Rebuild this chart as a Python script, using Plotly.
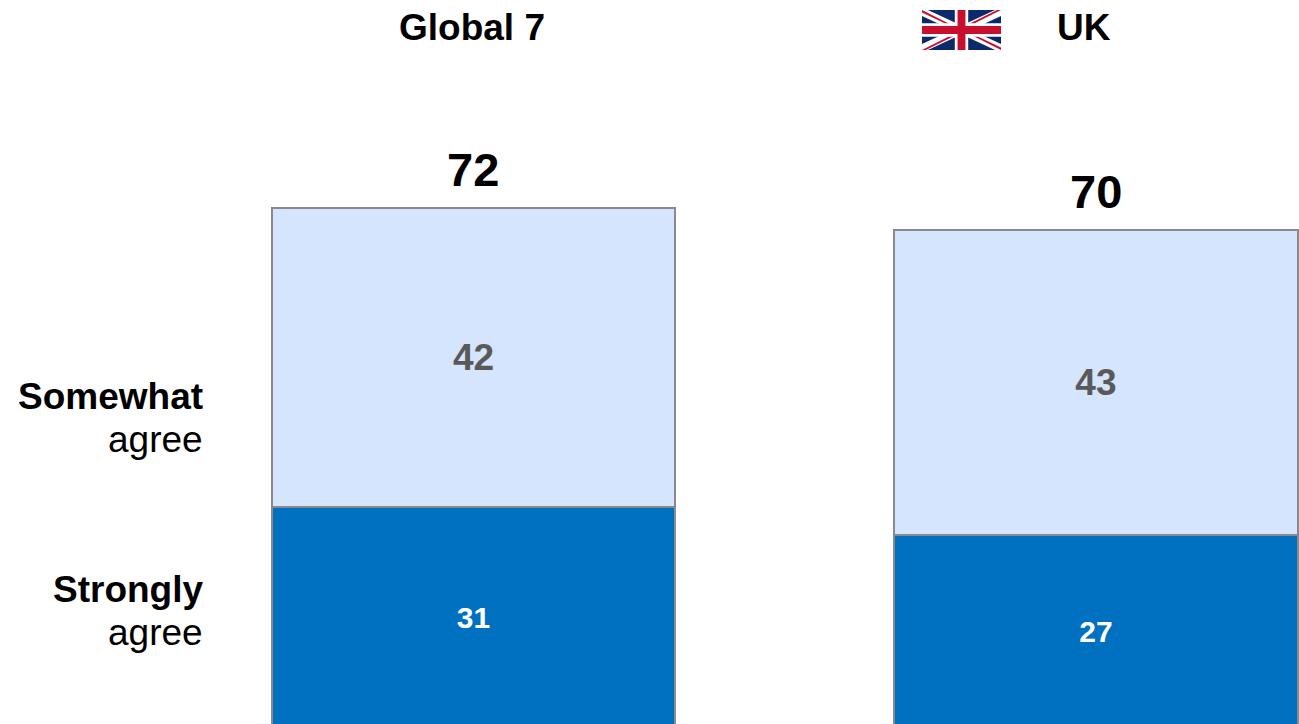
import plotly.graph_objects as go

W, H = 1299, 724

groups = [0, 1]
group_names = ["Global 7", "UK"]
strongly_agree = [31, 27]
somewhat_agree = [42, 43]
net_agree = [72, 70]

FONT = "Liberation Sans, Arial, sans-serif"
DARK_BLUE = "#0070C0"
LIGHT_BLUE = "#D5E5FD"
EDGE = "#8A8A8A"

fig = go.Figure()
bar_style = dict(
    x=groups,
    width=0.648,
    textposition="inside",
    insidetextanchor="middle",
    textangle=0,
    constraintext="none",
    cliponaxis=True,
    hoverinfo="skip",
)
fig.add_bar(
    y=strongly_agree,
    text=strongly_agree,
    marker=dict(color=DARK_BLUE, line=dict(color=EDGE, width=2)),
    textfont=dict(family=FONT, size=30, color="white", weight="bold"),
    name="Strongly agree",
    **bar_style,
)
fig.add_bar(
    y=somewhat_agree,
    text=somewhat_agree,
    marker=dict(color=LIGHT_BLUE, line=dict(color=EDGE, width=2)),
    textfont=dict(family=FONT, size=37, color="#595959", weight="bold"),
    name="Somewhat agree",
    **bar_style,
)


def px_x(v):
    return v / W


def px_y(v):
    return 1 - v / H


annotations = []


def label(text, x, y, size, anchor="center", bold=False):
    annotations.append(
        dict(
            text=f"<b>{text}</b>" if bold else text,
            x=px_x(x),
            y=px_y(y),
            xref="paper",
            yref="paper",
            xanchor=anchor,
            yanchor="middle",
            showarrow=False,
            font=dict(family=FONT, size=size, color="black"),
        )
    )


# Column headings
label(group_names[0], 471.5, 27, 37, bold=True)
label(group_names[1], 1083.5, 27, 37, bold=True)

# Row captions to the left of the first column
label("Somewhat", 205, 396, 37, anchor="right", bold=True)
label("agree", 205, 439, 37, anchor="right")
label("Strongly", 205, 589, 37, anchor="right", bold=True)
label("agree", 205, 632, 37, anchor="right")

# Net totals above each stack
for g, strong, some, net in zip(groups, strongly_agree, somewhat_agree, net_agree):
    annotations.append(
        dict(
            text=f"<b>{net}</b>",
            x=g,
            y=strong + some,
            xref="x",
            yref="y",
            yanchor="bottom",
            yshift=10,
            showarrow=False,
            font=dict(family=FONT, size=47, color="black"),
        )
    )

# Union flag beside the UK heading, built from layered polygons
FX0, FX1, FY0, FY1 = 922, 1001, 10, 50
NAVY, RED = "#0A2A6B", "#C8102E"


def flag_poly(points, color):
    coords = [
        (px_x(FX0 + (FX1 - FX0) * u), px_y(FY0 + (FY1 - FY0) * v)) for u, v in points
    ]
    path = "M " + " L ".join(f"{a:.5f},{b:.5f}" for a, b in coords) + " Z"
    return dict(
        type="path", path=path, xref="paper", yref="paper",
        fillcolor=color, line=dict(width=0), layer="above",
    )


a, b = 0.075, 0.15
shapes = [
    flag_poly([(0, 0), (1, 0), (1, 1), (0, 1)], NAVY),
    # white saltire
    flag_poly([(0, 0), (a, 0), (1, 1 - b), (1, 1), (1 - a, 1), (0, b)], "white"),
    flag_poly([(1, 0), (1, b), (a, 1), (0, 1), (0, 1 - b), (1 - a, 0)], "white"),
    # red saltire, counterchanged
    flag_poly([(0, 0), (0.42, 0.42), (0.38, 0.42), (0, 0.06)], RED),
    flag_poly([(1, 1), (0.58, 0.58), (0.62, 0.58), (1, 0.94)], RED),
    flag_poly([(1, 0), (0.58, 0.42), (0.58, 0.36), (0.95, 0)], RED),
    flag_poly([(0, 1), (0.42, 0.58), (0.42, 0.64), (0.05, 1)], RED),
    # white cross
    flag_poly([(0.415, 0), (0.585, 0), (0.585, 1), (0.415, 1)], "white"),
    flag_poly([(0, 0.33), (1, 0.33), (1, 0.67), (0, 0.67)], "white"),
    # red cross
    flag_poly([(0.45, 0), (0.55, 0), (0.55, 1), (0.45, 1)], RED),
    flag_poly([(0, 0.4), (1, 0.4), (1, 0.6), (0, 0.6)], RED),
]

fig.update_layout(
    barmode="stack",
    width=W,
    height=H,
    margin=dict(l=0, r=0, t=0, b=0),
    paper_bgcolor="white",
    plot_bgcolor="white",
    showlegend=False,
    annotations=annotations,
    shapes=shapes,
    xaxis=dict(visible=False, range=[-0.7606, 1.3262]),
    yaxis=dict(visible=False, range=[0.49, 102.3]),
)

fig.write_html("out.html", config=dict(displayModeBar=False))
